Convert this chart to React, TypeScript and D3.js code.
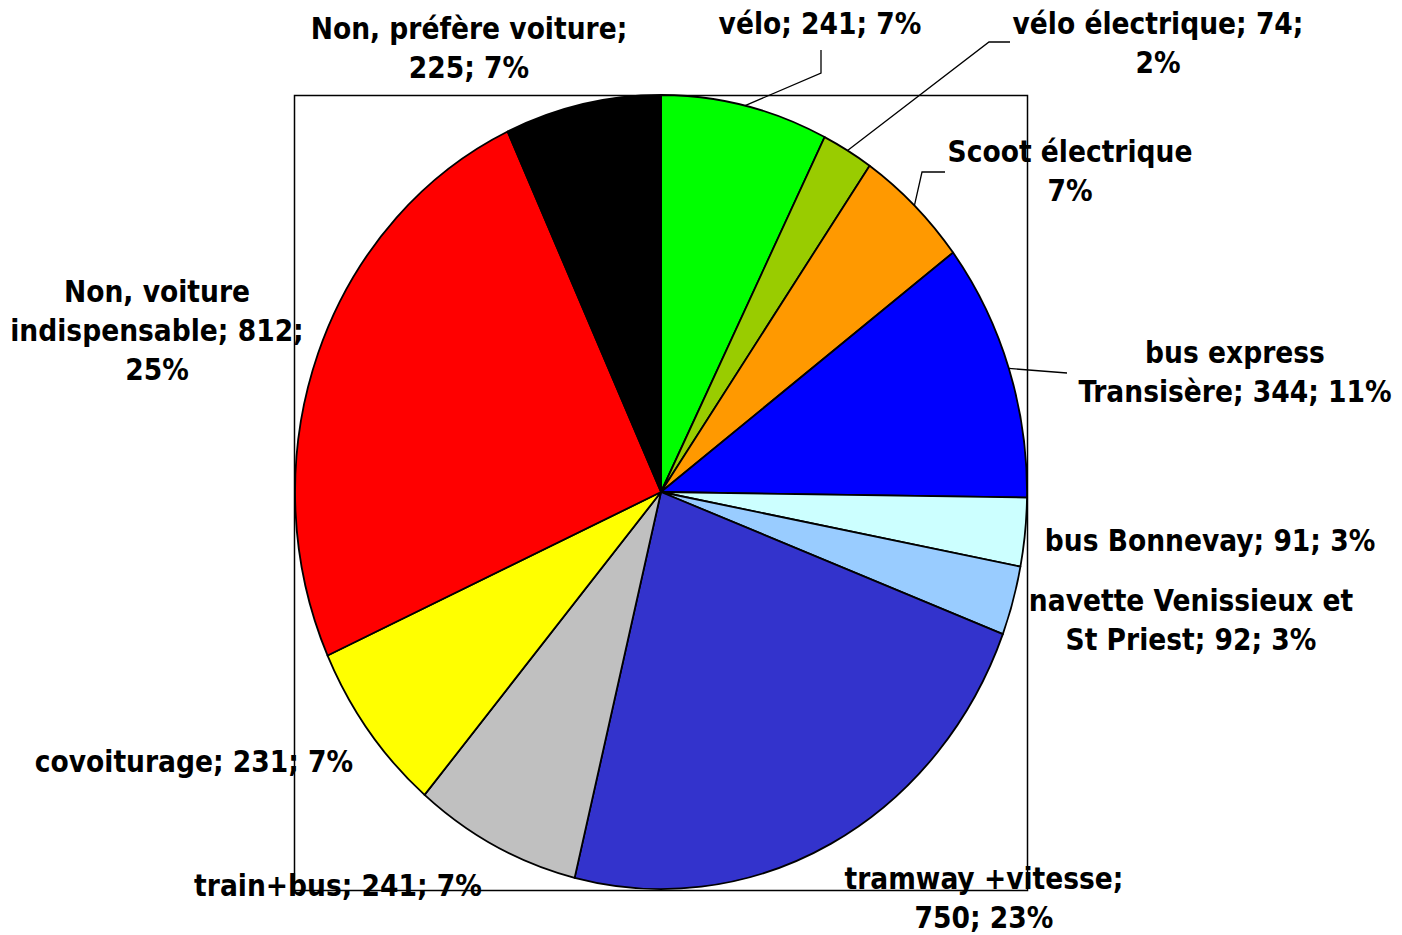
import React from "react";
import * as d3 from "d3";

// slices, clockwise from 12 o'clock
const categories = [
  "vélo",
  "vélo électrique",
  "Scoot électrique",
  "bus express Transisère",
  "bus Bonnevay",
  "navette Venissieux et St Priest",
  "tramway +vitesse",
  "train+bus",
  "covoiturage",
  "Non, voiture indispensable",
  "Non, préfère voiture",
];
const values = [241, 74, 165, 344, 91, 92, 750, 241, 231, 812, 225];
const colors = [
  "#00FF00", "#99CC00", "#FF9900", "#0000FF", "#CCFFFF", "#99CCFF",
  "#3333CC", "#C0C0C0", "#FFFF00", "#FF0000", "#000000",
];
const labelLines = [
  ["vélo; 241; 7%"],
  ["vélo électrique; 74;", "2%"],
  ["Scoot électrique", "7%"],
  ["bus express", "Transisère; 344; 11%"],
  ["bus Bonnevay; 91; 3%"],
  ["navette Venissieux et", "St Priest; 92; 3%"],
  ["tramway +vitesse;", "750; 23%"],
  ["train+bus; 241; 7%"],
  ["covoiturage; 231; 7%"],
  ["Non, voiture", "indispensable; 812;", "25%"],
  ["Non, préfère voiture;", "225; 7%"],
];

// label layout (center x, first line middle y) and leader elbows
const labelPos: [number, number][] = [
  [820, 24], [1158, 24], [1070, 152], [1235, 353], [1210, 541], [1191, 601],
  [984, 879], [338, 886], [194, 762], [157, 292], [469, 29],
];
const leaders: ([number, number][] | null)[] = [
  [[821, 73], [821, 50]],
  [[989, 42], [1010, 42]],
  [[922, 172], [945, 172]],
  [[1067, 373]],
  null, null, null, null, null, null, null,
];

const W = 1402, H = 935;
const cx = 661, cy = 492, rx = 366, ry = 397;
const lineH = 39;

export default function App() {
  const data = categories.map((c, i) => ({ c, v: values[i], i }));
  const pie = d3.pie<any>().sort(null).value((d) => d.v);
  const arcs = pie(data);
  const arc = d3.arc<any>().innerRadius(0).outerRadius(1);
  const edge = (a: number): [number, number] => [cx + rx * Math.sin(a), cy - ry * Math.cos(a)];

  return (
    <svg width={W} height={H} style={{ position: "absolute", left: 0, top: 0, background: "#fff" }}>
      <rect x={294.5} y={95.5} width={733} height={795} fill="none" stroke="#000" strokeWidth={1.5} />
      <g transform={`translate(${cx},${cy}) scale(${rx},${ry})`}>
        {arcs.map((a, i) => (
          <path key={i} d={arc(a) as string} fill={colors[i]} stroke="#000"
            strokeWidth={1.8} vectorEffect="non-scaling-stroke" strokeLinejoin="round" />
        ))}
      </g>
      {arcs.map((a, i) => {
        const L = leaders[i];
        if (!L) return null;
        const pts = [edge((a.startAngle + a.endAngle) / 2), ...L];
        return <path key={i} d={d3.line()(pts) as string} fill="none" stroke="#000" strokeWidth={1.3} />;
      })}
      <g fontFamily="'DejaVu Sans Condensed', 'DejaVu Sans', sans-serif" fontWeight="bold" fontSize={29.5} fill="#000">
        {labelLines.map((lines, i) => (
          <text key={i} textAnchor="middle">
            {lines.map((t, j) => (
              <tspan key={j} x={labelPos[i][0]} y={labelPos[i][1] + j * lineH} dominantBaseline="central">{t}</tspan>
            ))}
          </text>
        ))}
      </g>
    </svg>
  );
}
